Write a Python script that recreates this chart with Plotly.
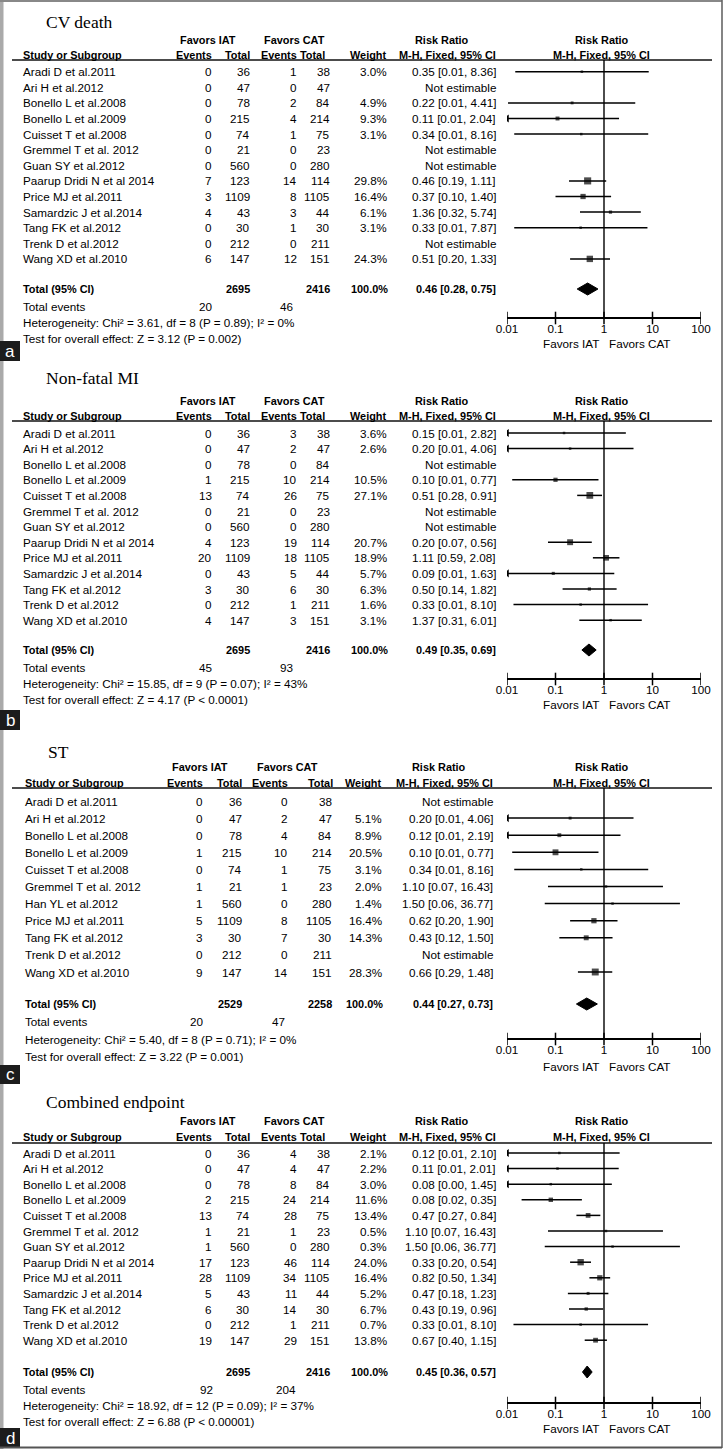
import plotly.graph_objects as go
import math

W, H = 727, 1449
SANS = "Liberation Sans, Arial, sans-serif"
SERIF = "Liberation Serif, Times New Roman, serif"
FS = 11.7
FSB = 10.9

# ---------------- data ----------------
std_study = ["Aradi D et al.2011", "Ari H et al.2012", "Bonello L et al.2008", "Bonello L et al.2009",
             "Cuisset T et al.2008", "Gremmel T et al. 2012", "Guan SY et al.2012",
             "Paarup Dridi N et al 2014", "Price MJ et al.2011", "Samardzic J et al.2014",
             "Tang FK et al.2012", "Trenk D et al.2012", "Wang XD et al.2010"]

# a) CV death
a_title = "CV death"
a_ev_iat = [0, 0, 0, 0, 0, 0, 0, 7, 3, 4, 0, 0, 6]
a_n_iat = [36, 47, 78, 215, 74, 21, 560, 123, 1109, 43, 30, 212, 147]
a_ev_cat = [1, 0, 2, 4, 1, 0, 0, 14, 8, 3, 1, 0, 12]
a_n_cat = [38, 47, 84, 214, 75, 23, 280, 114, 1105, 44, 30, 211, 151]
a_weight = [3.0, None, 4.9, 9.3, 3.1, None, None, 29.8, 16.4, 6.1, 3.1, None, 24.3]
a_rr = [0.35, None, 0.22, 0.11, 0.34, None, None, 0.46, 0.37, 1.36, 0.33, None, 0.51]
a_lo = [0.0148, None, 0.0105, 0.006, 0.0141, None, None, 0.19, 0.10, 0.32, 0.0141, None, 0.20]
a_hi = [8.36, None, 4.41, 2.04, 8.16, None, None, 1.11, 1.40, 5.74, 7.87, None, 1.33]
a_total_n = [2695, 2416]
a_total_events = [20, 46]
a_total_est = [0.46, 0.28, 0.75]
a_het = "Heterogeneity: Chi² = 3.61, df = 8 (P = 0.89); I² = 0%"
a_test = "Test for overall effect: Z = 3.12 (P = 0.002)"

# b) Non-fatal MI
b_title = "Non-fatal MI"
b_ev_iat = [0, 0, 0, 1, 13, 0, 0, 4, 20, 0, 3, 0, 4]
b_n_iat = [36, 47, 78, 215, 74, 21, 560, 123, 1109, 43, 30, 212, 147]
b_ev_cat = [3, 2, 0, 10, 26, 0, 0, 19, 18, 5, 6, 1, 3]
b_n_cat = [38, 47, 84, 214, 75, 23, 280, 114, 1105, 44, 30, 211, 151]
b_weight = [3.6, 2.6, None, 10.5, 27.1, None, None, 20.7, 18.9, 5.7, 6.3, 1.6, 3.1]
b_rr = [0.15, 0.20, None, 0.10, 0.51, None, None, 0.20, 1.11, 0.09, 0.50, 0.33, 1.37]
b_lo = [0.008, 0.0099, None, 0.0128, 0.28, None, None, 0.07, 0.59, 0.0055, 0.14, 0.0136, 0.31]
b_hi = [2.82, 4.06, None, 0.77, 0.91, None, None, 0.56, 2.08, 1.63, 1.82, 8.10, 6.01]
b_total_n = [2695, 2416]
b_total_events = [45, 93]
b_total_est = [0.49, 0.35, 0.69]
b_het = "Heterogeneity: Chi² = 15.85, df = 9 (P = 0.07); I² = 43%"
b_test = "Test for overall effect: Z = 4.17 (P < 0.0001)"

# c) ST
c_title = "ST"
c_study = ["Aradi D et al.2011", "Ari H et al.2012", "Bonello L et al.2008", "Bonello L et al.2009",
           "Cuisset T et al.2008", "Gremmel T et al. 2012", "Han YL et al.2012",
           "Price MJ et al.2011", "Tang FK et al.2012", "Trenk D et al.2012", "Wang XD et al.2010"]
c_ev_iat = [0, 0, 0, 1, 0, 1, 1, 5, 3, 0, 9]
c_n_iat = [36, 47, 78, 215, 74, 21, 560, 1109, 30, 212, 147]
c_ev_cat = [0, 2, 4, 10, 1, 1, 0, 8, 7, 0, 14]
c_n_cat = [38, 47, 84, 214, 75, 23, 280, 1105, 30, 211, 151]
c_weight = [None, 5.1, 8.9, 20.5, 3.1, 2.0, 1.4, 16.4, 14.3, None, 28.3]
c_rr = [None, 0.20, 0.12, 0.10, 0.34, 1.10, 1.50, 0.62, 0.43, None, 0.66]
c_lo = [None, 0.0099, 0.0066, 0.0128, 0.0141, 0.07, 0.06, 0.20, 0.12, None, 0.29]
c_hi = [None, 4.06, 2.19, 0.77, 8.16, 16.43, 36.77, 1.90, 1.50, None, 1.48]
c_total_n = [2529, 2258]
c_total_events = [20, 47]
c_total_est = [0.44, 0.27, 0.73]
c_het = "Heterogeneity: Chi² = 5.40, df = 8 (P = 0.71); I² = 0%"
c_test = "Test for overall effect: Z = 3.22 (P = 0.001)"

# d) Combined endpoint
d_title = "Combined endpoint"
d_ev_iat = [0, 0, 0, 2, 13, 1, 1, 17, 28, 5, 6, 0, 19]
d_n_iat = [36, 47, 78, 215, 74, 21, 560, 123, 1109, 43, 30, 212, 147]
d_ev_cat = [4, 4, 8, 24, 28, 1, 0, 46, 34, 11, 14, 1, 29]
d_n_cat = [38, 47, 84, 214, 75, 23, 280, 114, 1105, 44, 30, 211, 151]
d_weight = [2.1, 2.2, 3.0, 11.6, 13.4, 0.5, 0.3, 24.0, 16.4, 5.2, 6.7, 0.7, 13.8]
d_rr = [0.12, 0.11, 0.08, 0.08, 0.47, 1.10, 1.50, 0.33, 0.82, 0.47, 0.43, 0.33, 0.67]
d_lo = [0.0066, 0.006, 0.004, 0.02, 0.27, 0.07, 0.06, 0.20, 0.50, 0.18, 0.19, 0.0136, 0.40]
d_hi = [2.10, 2.01, 1.45, 0.35, 0.84, 16.43, 36.77, 0.54, 1.34, 1.23, 0.96, 8.10, 1.15]
d_total_n = [2695, 2416]
d_total_events = [92, 204]
d_total_est = [0.45, 0.36, 0.57]
d_het = "Heterogeneity: Chi² = 18.92, df = 12 (P = 0.09); I² = 37%"
d_test = "Test for overall effect: Z = 6.88 (P < 0.00001)"

tick_vals = [0.01, 0.1, 1, 10, 100]
tick_text = ["0.01", "0.1", "1", "10", "100"]
favors_left = "Favors IAT"
favors_right = "Favors CAT"

# ---------------- layout geometry (pixels) ----------------
COLS_STD = dict(title=46, name=23, ev1=212, n1=250, ev2=297, n2=330, w=387, rr=496,
                fav1=208, fav2=294, hn2=325, hw=386, rrh=442, tev1=206, tev2=286)
COLS_C = dict(title=48, name=25, ev1=203, n1=242, ev2=288, n2=332, w=382, rr=493,
              fav1=200, fav2=287, hn2=333, hw=381, rrh=439, tev1=197, tev2=278)

geo = [
    dict(letter="a", title_y=22, fav_y=40, hdr_y=55, line_y=60, row0=71.7, dy=15.6, total_y=289,
         events_y=306, het_y=322, test_y=338, axis_y=318, favlab_y=343, box=(341, 361), cols=COLS_STD),
    dict(letter="b", title_y=378, fav_y=401, hdr_y=416, line_y=421, row0=433, dy=15.6, total_y=650,
         events_y=667, het_y=683, test_y=699, axis_y=679, favlab_y=704, box=(710, 730), cols=COLS_STD),
    dict(letter="c", title_y=752, fav_y=767, hdr_y=783, line_y=788, row0=801, dy=17.1, total_y=1004,
         events_y=1021, het_y=1039, test_y=1056, axis_y=1039, favlab_y=1066, box=(1065, 1084), cols=COLS_C),
    dict(letter="d", title_y=1102, fav_y=1121, hdr_y=1137, line_y=1143, row0=1153, dy=15.6, total_y=1372,
         events_y=1389, het_y=1405, test_y=1421, axis_y=1403, favlab_y=1428, box=(1428, 1448), cols=COLS_STD),
]

panels = [
    dict(title=a_title, study=std_study, ev1=a_ev_iat, n1=a_n_iat, ev2=a_ev_cat, n2=a_n_cat, w=a_weight,
         rr=a_rr, lo=a_lo, hi=a_hi, tn=a_total_n, te=a_total_events, est=a_total_est, het=a_het, test=a_test),
    dict(title=b_title, study=std_study, ev1=b_ev_iat, n1=b_n_iat, ev2=b_ev_cat, n2=b_n_cat, w=b_weight,
         rr=b_rr, lo=b_lo, hi=b_hi, tn=b_total_n, te=b_total_events, est=b_total_est, het=b_het, test=b_test),
    dict(title=c_title, study=c_study, ev1=c_ev_iat, n1=c_n_iat, ev2=c_ev_cat, n2=c_n_cat, w=c_weight,
         rr=c_rr, lo=c_lo, hi=c_hi, tn=c_total_n, te=c_total_events, est=c_total_est, het=c_het, test=c_test),
    dict(title=d_title, study=std_study, ev1=d_ev_iat, n1=d_n_iat, ev2=d_ev_cat, n2=d_n_cat, w=d_weight,
         rr=d_rr, lo=d_lo, hi=d_hi, tn=d_total_n, te=d_total_events, est=d_total_est, het=d_het, test=d_test),
]

X_LO_PX, X_HI_PX = 507, 701
XMIN = 0.01

fig = go.Figure()
ann = []
shapes = []


def txt(x, y, s, anchor="left", bold=False, size=None, color="black", family=SANS):
    if size is None:
        size = FSB if bold else FS
    ann.append(dict(x=x / W, y=y, xref="paper", yref="y", text=("<b>%s</b>" % s) if bold else s,
                    showarrow=False, xanchor=anchor, yanchor="middle", borderpad=0, borderwidth=0,
                    font=dict(family=family, size=size, color=color)))


def fmt_ci(r, l, h):
    return "%.2f [%.2f, %.2f]" % (r, l, h)


for p, (g, d) in enumerate(zip(geo, panels)):
    c = g["cols"]
    xa = "x" if p == 0 else "x%d" % (p + 1)
    # titles / headers
    txt(c["title"], g["title_y"], d["title"], family=SERIF, size=17.5)
    txt(c["fav1"], g["fav_y"], "Favors IAT", "center", bold=True)
    txt(c["fav2"], g["fav_y"], "Favors CAT", "center", bold=True)
    txt(c["rrh"], g["fav_y"], "Risk Ratio", "center", bold=True)
    txt(602, g["fav_y"], "Risk Ratio", "center", bold=True)
    txt(c["name"], g["hdr_y"], "Study or Subgroup", bold=True)
    txt(c["ev1"], g["hdr_y"], "Events", "right", bold=True)
    txt(c["n1"], g["hdr_y"], "Total", "right", bold=True)
    txt(c["ev2"], g["hdr_y"], "Events", "right", bold=True)
    txt(c["hn2"], g["hdr_y"], "Total", "right", bold=True)
    txt(c["hw"], g["hdr_y"], "Weight", "right", bold=True)
    txt(c["rr"], g["hdr_y"], "M-H, Fixed, 95% CI", "right", bold=True)
    txt(601, g["hdr_y"], "M-H, Fixed, 95% CI", "center", bold=True)
    shapes.append(dict(type="line", xref="paper", yref="y", x0=12 / W, x1=712 / W,
                       y0=g["line_y"], y1=g["line_y"], line=dict(color="#111", width=1.6)))

    # study rows
    ci_x, ci_y, sq_x, sq_y, sq_s, ar_y = [], [], [], [], [], []
    for i, name in enumerate(d["study"]):
        y = g["row0"] + i * g["dy"]
        txt(c["name"], y, name)
        txt(c["ev1"], y, str(d["ev1"][i]), "right")
        txt(c["n1"], y, str(d["n1"][i]), "right")
        txt(c["ev2"], y, str(d["ev2"][i]), "right")
        txt(c["n2"], y, str(d["n2"][i]), "right")
        if d["rr"][i] is None:
            txt(c["rr"], y, "Not estimable", "right")
            continue
        txt(c["w"], y, "%.1f%%" % d["w"][i], "right")
        txt(c["rr"], y, fmt_ci(d["rr"][i], d["lo"][i], d["hi"][i]), "right")
        lo = max(d["lo"][i], XMIN)
        ci_x += [lo, d["hi"][i], None]
        ci_y += [y, y, None]
        sq_x.append(d["rr"][i])
        sq_y.append(y)
        sq_s.append(max(2.5, 1.3 * math.sqrt(d["w"][i])))
        if d["lo"][i] < XMIN:
            ar_y.append(y)

    fig.add_trace(go.Scatter(x=ci_x, y=ci_y, mode="lines", line=dict(color="black", width=1.5),
                             xaxis=xa, yaxis="y", hoverinfo="skip"))
    fig.add_trace(go.Scatter(x=sq_x, y=sq_y, mode="markers",
                             marker=dict(symbol="square", size=sq_s, color="black", line=dict(width=0)),
                             xaxis=xa, yaxis="y", hoverinfo="skip"))
    if ar_y:
        fig.add_trace(go.Scatter(x=[XMIN] * len(ar_y), y=ar_y, mode="markers",
                                 marker=dict(symbol="triangle-left", size=7, color="black", line=dict(width=0)),
                                 xaxis=xa, yaxis="y", hoverinfo="skip"))

    # totals
    ty = g["total_y"]
    txt(c["name"], ty, "Total (95% CI)", bold=True)
    txt(c["n1"], ty, str(d["tn"][0]), "right", bold=True)
    txt(c["n2"], ty, str(d["tn"][1]), "right", bold=True)
    txt(c["w"] + 1, ty, "100.0%", "right", bold=True)
    r, l, h = d["est"]
    txt(c["rr"], ty, fmt_ci(r, l, h), "right", bold=True)
    fig.add_trace(go.Scatter(x=[l, r, h, r, l], y=[ty, ty - 6, ty, ty + 6, ty], mode="lines",
                             fill="toself", fillcolor="black", line=dict(color="black", width=1),
                             xaxis=xa, yaxis="y", hoverinfo="skip"))
    txt(c["name"], g["events_y"], "Total events")
    txt(c["tev1"], g["events_y"], str(d["te"][0]), "center")
    txt(c["tev2"], g["events_y"], str(d["te"][1]), "center")
    txt(c["name"], g["het_y"], d["het"])
    txt(c["name"], g["test_y"], d["test"])

    # forest axis decorations
    fig.add_trace(go.Scatter(x=tick_vals, y=[g["axis_y"]] * len(tick_vals), mode="markers",
                             marker=dict(symbol="line-ns", size=9, line=dict(color="black", width=1.5)),
                             xaxis=xa, yaxis="y", hoverinfo="skip"))
    shapes.append(dict(type="line", xref=xa, yref="y", x0=1, x1=1, y0=g["line_y"], y1=g["axis_y"],
                       line=dict(color="black", width=1.4)))
    txt(571, g["favlab_y"], favors_left, "center")
    txt(639, g["favlab_y"], favors_right, "center")

    ax = dict(type="log", range=[-2, 2], domain=[X_LO_PX / W, X_HI_PX / W], anchor="free",
              position=1 - g["axis_y"] / H, showline=True, linecolor="black", linewidth=1.5,
              ticks="", tickvals=tick_vals, ticktext=tick_text, showgrid=False, zeroline=False,
              tickfont=dict(family=SANS, size=FS, color="black"), fixedrange=True, automargin=False)
    if p > 0:
        ax["overlaying"] = "x"
    fig.layout["xaxis" if p == 0 else "xaxis%d" % (p + 1)] = ax

    # panel letter box
    b0, b1 = g["box"]
    shapes.append(dict(type="rect", xref="paper", yref="y", x0=0, x1=20 / W, y0=b0, y1=b1,
                       fillcolor="#1c1c1c", line=dict(width=0)))
    txt(10, (b0 + b1) / 2, g["letter"], "center", size=17, color="white")

# frame
shapes.insert(0, dict(type="rect", xref="paper", yref="y", x0=0, x1=3.5 / W, y0=0, y1=H,
                      fillcolor="#aaaaaa", line=dict(width=0)))
shapes.append(dict(type="line", xref="paper", yref="y", x0=0, x1=722 / W, y0=1, y1=1,
                   line=dict(color="#888888", width=2)))
shapes.append(dict(type="line", xref="paper", yref="y", x0=722 / W, x1=722 / W, y0=0, y1=1448,
                   line=dict(color="#666666", width=1.6)))
shapes.append(dict(type="line", xref="paper", yref="y", x0=0, x1=722 / W, y0=1447.5, y1=1447.5,
                   line=dict(color="#555555", width=2)))

fig.update_layout(
    width=W, height=H, margin=dict(l=0, r=0, t=0, b=0, pad=0, autoexpand=False),
    paper_bgcolor="white", plot_bgcolor="white", showlegend=False,
    yaxis=dict(range=[H, 0], domain=[0, 1], visible=False, fixedrange=True, automargin=False),
    annotations=ann, shapes=shapes,
)

fig.write_html("out.html", config={"displayModeBar": False},
               post_script="document.body.style.margin='0';document.body.style.overflow='hidden';")
